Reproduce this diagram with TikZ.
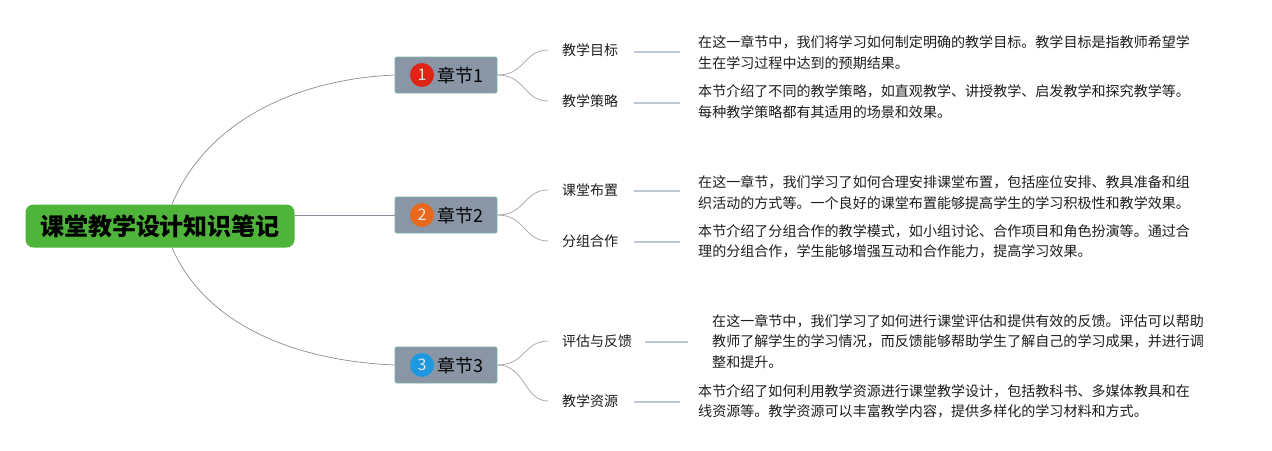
\documentclass[tikz,border=0pt]{standalone}
\usepackage{fontspec}
\setmainfont{Noto Sans CJK SC}
\definecolor{rootgreen}{RGB}{78,180,58}
\definecolor{chapgray}{RGB}{138,150,166}
\definecolor{chapedge}{RGB}{120,180,170}
\definecolor{redc}{RGB}{222,38,22}
\definecolor{orangec}{RGB}{232,105,30}
\definecolor{bluec}{RGB}{30,152,222}
\definecolor{rootline}{RGB}{140,140,155}
\definecolor{leafline}{RGB}{192,200,210}
\definecolor{txt}{RGB}{30,30,30}
\tikzset{
  rootbox/.style={fill=rootgreen, rounded corners=8pt, minimum width=269pt, minimum height=43pt, inner sep=0pt, font=\bfseries\fontsize{24}{24}\selectfont, text=black},
  chapbox/.style={fill=chapgray, draw=chapedge, line width=0.8pt, rounded corners=2pt, minimum width=102pt, minimum height=36pt, inner sep=0pt},
  numc/.style={circle, minimum size=24pt, inner sep=0pt, font=\fontsize{16}{16}\selectfont, text=white!80!gray},
  chapt/.style={font=\fontsize{18}{18}\selectfont, text=black, inner sep=0pt},
  leaf/.style={anchor=west, inner xsep=12pt, inner ysep=2pt, font=\fontsize{14}{14}\selectfont, text=txt},
  desc/.style={anchor=west, align=left, inner xsep=8pt, inner ysep=2pt, font=\fontsize{14.05}{20.5}\selectfont, text=txt},
  rline/.style={draw=rootline, line width=0.7pt},
  bline/.style={draw=rootline!80, line width=0.7pt},
  lline/.style={draw=leafline, line width=1.5pt},
}
\begin{document}
\begin{tikzpicture}[x=1pt,y=-1pt]
\useasboundingbox (0,0) rectangle (1272,450);
\fill[white] (0,0) rectangle (1272,450);

% root
\node[rootbox] (root) at (160,226) {课堂教学设计知识笔记};

% chapters
\node[chapbox] (c1) at (446,75) {};
\node[numc, fill=redc] (n1) at (422,75) {1};
\node[chapt] (t1) at (460,76) {章节1};
\node[chapbox] (c2) at (446,215) {};
\node[numc, fill=orangec] (n2) at (422,215) {2};
\node[chapt] (t2) at (460,216) {章节2};
\node[chapbox] (c3) at (446,365) {};
\node[numc, fill=bluec] (n3) at (422,365) {3};
\node[chapt] (t3) at (460,366) {章节3};

% leaves
\node[leaf] (l11) at (550,50) {教学目标};
\node[leaf] (l12) at (550,101) {教学策略};
\node[leaf] (l21) at (550,190) {课堂布置};
\node[leaf] (l22) at (550,241) {分组合作};
\node[leaf] (l31) at (550,341) {评估与反馈};
\node[leaf] (l32) at (550,401) {教学资源};

% descriptions
\node[desc] (d11) at (690,52.5) {在这一章节中，我们将学习如何制定明确的教学目标。教学目标是指教师希望学\\生在学习过程中达到的预期结果。};
\node[desc] (d12) at (690,101.5) {本节介绍了不同的教学策略，如直观教学、讲授教学、启发教学和探究教学等。\\每种教学策略都有其适用的场景和效果。};
\node[desc] (d21) at (690,192.5) {在这一章节，我们学习了如何合理安排课堂布置，包括座位安排、教具准备和组\\织活动的方式等。一个良好的课堂布置能够提高学生的学习积极性和教学效果。};
\node[desc] (d22) at (690,241.5) {本节介绍了分组合作的教学模式，如小组讨论、合作项目和角色扮演等。通过合\\理的分组合作，学生能够增强互动和合作能力，提高学习效果。};
\node[desc] (d31) at (704,341.5) {在这一章节中，我们学习了如何进行课堂评估和提供有效的反馈。评估可以帮助\\教师了解学生的学习情况，而反馈能够帮助学生了解自己的学习成果，并进行调\\整和提升。};
\node[desc] (d32) at (690,401.5) {本节介绍了如何利用教学资源进行课堂教学设计，包括教科书、多媒体教具和在\\线资源等。教学资源可以丰富教学内容，提供多样化的学习材料和方式。};

% root to chapters
\draw[rline] ([xshift=12pt]root.north) .. controls +(35,-85) and +(-95,4) .. (c1.west);
\draw[rline] (root.east |- c2.west) -- (c2.west);
\draw[rline] ([xshift=12pt]root.south) .. controls +(35,80) and +(-95,-4) .. (c3.west);

% chapters to leaves
\foreach \c/\l in {c1/l11, c1/l12, c2/l21, c2/l22, c3/l31, c3/l32}
  \draw[bline] (\c.east) .. controls +(28,0) and +(-24,0) .. ([xshift=-2pt]\l.west);

% leaves to descriptions
\draw[lline, shorten <=4pt, shorten >=10pt] ([yshift=-2pt]l11.east) -- ([yshift=-2pt]l11.east -| d11.west);
\draw[lline, shorten <=4pt, shorten >=10pt] ([yshift=-2pt]l12.east) -- ([yshift=-2pt]l12.east -| d12.west);
\draw[lline, shorten <=4pt, shorten >=10pt] ([yshift=-1pt]l21.east) -- ([yshift=-1pt]l21.east -| d21.west);
\draw[lline, shorten <=4pt, shorten >=10pt] ([yshift=-1pt]l22.east) -- ([yshift=-1pt]l22.east -| d22.west);
\draw[lline, shorten <=1pt, shorten >=16pt] ([yshift=-1pt]l31.east) -- ([yshift=-1pt]l31.east -| d31.west);
\draw[lline, shorten <=4pt, shorten >=10pt] ([yshift=-1pt]l32.east) -- ([yshift=-1pt]l32.east -| d32.west);
\end{tikzpicture}
\end{document}
